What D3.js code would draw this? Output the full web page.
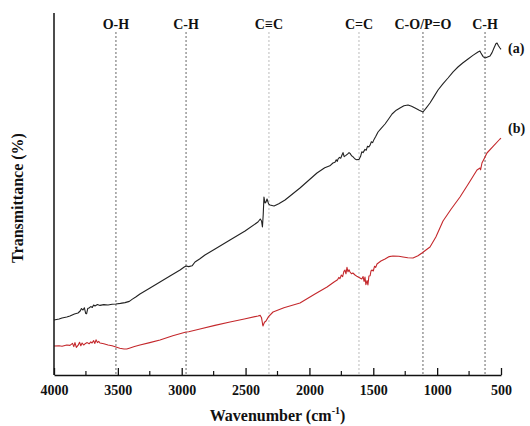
<!DOCTYPE html>
<html>
<head>
<meta charset="utf-8">
<script src="https://cdn.jsdelivr.net/npm/d3@7/dist/d3.min.js"></script>
<style>
  body { margin: 0; background: #fff; }
  text { font-family: "Liberation Serif", "Times New Roman", serif; font-weight: bold; }
</style>
</head>
<body>
<div id="chart"></div>
<script>
// FTIR spectra, wavenumber (cm-1) vs transmittance (arbitrary %)
var spectrumA = [
  [4000, 13.75], [3960, 14.0], [3937, 14.25], [3900, 14.5], [3875, 14.75], [3840, 15.25],
  [3812, 15.5], [3795, 16.0], [3785, 16.6], [3773, 16.25], [3762, 16.8], [3752, 15.4],
  [3745, 15.3], [3736, 16.6], [3726, 16.75], [3712, 17.1], [3700, 16.9], [3690, 17.5],
  [3679, 17.25], [3660, 17.6], [3640, 17.4], [3610, 17.6], [3577, 17.5], [3545, 17.7],
  [3515, 17.75], [3480, 17.9], [3444, 18.1], [3410, 18.4], [3389, 18.9], [3360, 19.5],
  [3327, 20.25], [3248, 21.75], [3170, 23.25], [3092, 24.75], [3013, 26.25], [2980, 27.0],
  [2966, 27.25], [2945, 27.1], [2919, 27.3], [2896, 28.25], [2860, 29.0], [2818, 30.0],
  [2739, 31.5], [2622, 33.75], [2504, 36.0], [2403, 38.25], [2385, 39.0], [2375, 38.5],
  [2368, 37.0], [2362, 40.0], [2356, 44.5], [2348, 43.0], [2340, 43.25], [2332, 44.0],
  [2320, 42.8], [2309, 42.5], [2277, 42.25], [2240, 42.8], [2191, 43.75], [2074, 46.75],
  [1941, 50.5], [1880, 51.8], [1840, 52.3], [1816, 53.0], [1800, 53.2], [1790, 53.8],
  [1782, 53.4], [1776, 54.0], [1765, 54.4], [1755, 54.2], [1745, 55.0], [1737, 55.6],
  [1728, 54.6], [1714, 54.9], [1700, 55.3], [1690, 55.6], [1682, 55.4], [1670, 54.8],
  [1660, 54.6], [1643, 54.0], [1630, 53.8], [1612, 53.9], [1600, 54.6], [1590, 55.8],
  [1580, 55.6], [1565, 56.4], [1555, 56.2], [1545, 57.2], [1535, 57.0], [1526, 57.4],
  [1515, 58.3], [1505, 58.1], [1494, 58.9], [1480, 59.7], [1463, 60.75], [1440, 61.6],
  [1408, 62.75], [1380, 64.0], [1353, 65.25], [1320, 66.2], [1291, 66.75], [1260, 67.3],
  [1228, 67.5], [1200, 67.2], [1173, 66.75], [1140, 66.2], [1111, 65.75], [1085, 66.8],
  [1056, 68.0], [1025, 69.6], [993, 71.25], [955, 72.8], [915, 74.25], [875, 75.8],
  [837, 77.0], [800, 78.0], [758, 79.0], [720, 79.9], [680, 80.75], [665, 81.0],
  [657, 80.5], [640, 79.6], [625, 79.25], [605, 79.5], [586, 79.75], [570, 80.6],
  [555, 81.75], [540, 82.8], [531, 83.0], [520, 82.3], [508, 81.75], [500, 81.4]
];

var spectrumB = [
  [4000, 7.25], [3960, 7.3], [3937, 7.2], [3900, 7.5], [3875, 7.4], [3855, 7.9],
  [3845, 7.1], [3836, 8.1], [3825, 6.9], [3812, 7.4], [3800, 8.2], [3790, 7.3],
  [3780, 8.0], [3768, 7.5], [3757, 7.8], [3740, 8.1], [3725, 7.8], [3712, 8.3],
  [3702, 8.0], [3690, 8.6], [3680, 7.9], [3671, 8.8], [3660, 8.1], [3650, 8.4],
  [3640, 8.0], [3610, 7.8], [3577, 7.5], [3545, 7.3], [3515, 7.0], [3485, 6.7],
  [3452, 6.5], [3430, 6.5], [3405, 6.75], [3370, 7.1], [3327, 7.5], [3250, 8.1],
  [3170, 8.75], [3070, 9.8], [2966, 10.75], [2945, 10.8], [2857, 11.5], [2740, 12.4],
  [2622, 13.25], [2510, 14.0], [2403, 14.75], [2385, 14.9], [2375, 14.3], [2364, 12.25],
  [2352, 13.2], [2340, 13.5], [2320, 14.6], [2285, 15.75], [2200, 16.8], [2074, 18.0],
  [1960, 20.2], [1862, 22.0], [1810, 23.2], [1780, 23.8], [1770, 24.4], [1761, 24.1],
  [1750, 25.0], [1740, 24.6], [1730, 25.9], [1722, 26.25], [1714, 25.3], [1706, 26.9],
  [1698, 25.8], [1690, 26.3], [1682, 25.75], [1670, 25.3], [1660, 25.5], [1643, 25.0],
  [1625, 24.6], [1604, 24.25], [1590, 24.0], [1580, 24.6], [1572, 23.4], [1565, 24.5],
  [1558, 22.6], [1549, 23.6], [1542, 22.5], [1534, 24.75], [1525, 24.8], [1518, 26.0],
  [1510, 26.25], [1500, 26.0], [1490, 27.2], [1481, 26.9], [1471, 27.75], [1440, 28.5],
  [1408, 29.0], [1375, 29.6], [1346, 29.75], [1300, 29.7], [1267, 29.5], [1230, 29.3],
  [1189, 29.25], [1150, 29.8], [1119, 30.5], [1090, 31.2], [1056, 32.0], [1010, 34.5],
  [954, 38.5], [890, 41.5], [821, 44.5], [755, 47.8], [688, 51.25], [664, 51.75],
  [660, 51.3], [649, 53.0], [630, 54.2], [610, 55.5], [560, 57.2], [508, 59.0], [500, 59.2]
];

var bandNames = ["O-H", "C-H", "C\u2261C", "C=C", "C-O/P=O", "C-H"];
var bandWavenumbers = [3515, 2966, 2317, 1612, 1111, 625];
var bandShade = ["#666", "#666", "#bbb", "#bbb", "#666", "#666"];

var majorTicks = [4000, 3500, 3000, 2500, 2000, 1500, 1000, 500];
var minorTicks = [3750, 3250, 2750, 2250, 1750, 1250, 750];

var seriesNames = ["(a)", "(b)"];
var seriesColors = ["#222", "#c4282c"];

var width = 530, height = 426;
var margin = { top: 13, right: 29, bottom: 51, left: 54 };

var svg = d3.select("#chart").append("svg")
  .attr("width", width)
  .attr("height", height)
  .style("background", "#fff");

var x = d3.scaleLinear()
  .domain([4000, 500])
  .range([margin.left, width - margin.right]);

var y = d3.scaleLinear()
  .domain([0, 90.5])
  .range([height - margin.bottom, margin.top]);

var plotBottom = height - margin.bottom;

// band marker lines
svg.selectAll(".band")
  .data(bandWavenumbers)
  .enter()
  .append("line")
  .attr("class", "band")
  .attr("x1", function(d) { return x(d); })
  .attr("x2", function(d) { return x(d); })
  .attr("y1", 32)
  .attr("y2", plotBottom)
  .attr("stroke", function(d, i) { return bandShade[i]; })
  .attr("stroke-width", 1)
  .attr("stroke-dasharray", "2,2");

svg.selectAll(".bandLabel")
  .data(bandNames)
  .enter()
  .append("text")
  .attr("class", "bandLabel")
  .attr("x", function(d, i) { return x(bandWavenumbers[i]); })
  .attr("y", 29)
  .attr("text-anchor", "middle")
  .attr("font-size", 14)
  .attr("fill", "#111")
  .text(function(d) { return d; });

// spectra
var line = d3.line()
  .x(function(d) { return x(d[0]); })
  .y(function(d) { return y(d[1]); });

svg.selectAll(".spectrum")
  .data([spectrumA, spectrumB])
  .enter()
  .append("path")
  .attr("class", "spectrum")
  .attr("d", line)
  .attr("fill", "none")
  .attr("stroke", function(d, i) { return seriesColors[i]; })
  .attr("stroke-width", 1.1)
  .attr("stroke-linejoin", "round");

// series labels
var lastPoints = [spectrumA[spectrumA.length - 1], spectrumB[spectrumB.length - 1]];
svg.selectAll(".seriesLabel")
  .data(seriesNames)
  .enter()
  .append("text")
  .attr("class", "seriesLabel")
  .attr("x", 508)
  .attr("y", function(d, i) { return i == 0 ? 53 : 133; })
  .attr("font-size", 14)
  .attr("fill", "#111")
  .text(function(d) { return d; });

// x axis
var xAxis = d3.axisBottom(x)
  .tickValues(majorTicks)
  .tickSize(-7)
  .tickSizeOuter(0)
  .tickPadding(10)
  .tickFormat(d3.format("d"));

var gx = svg.append("g")
  .attr("transform", "translate(0," + plotBottom + ")")
  .call(xAxis);

gx.select(".domain").attr("stroke", "#111").attr("stroke-width", 1.5);
gx.selectAll(".tick line").attr("stroke", "#111").attr("stroke-width", 1.3);
gx.selectAll(".tick text")
  .attr("font-size", 14)
  .attr("font-family", "Liberation Serif, Times New Roman, serif")
  .attr("font-weight", "bold")
  .attr("fill", "#111");

gx.selectAll(".minor")
  .data(minorTicks)
  .enter()
  .append("line")
  .attr("class", "minor")
  .attr("x1", function(d) { return x(d); })
  .attr("x2", function(d) { return x(d); })
  .attr("y1", 0)
  .attr("y2", -4)
  .attr("stroke", "#111")
  .attr("stroke-width", 1.2);

// y axis: plain line, no ticks
svg.append("line")
  .attr("x1", margin.left)
  .attr("x2", margin.left)
  .attr("y1", margin.top)
  .attr("y2", plotBottom)
  .attr("stroke", "#111")
  .attr("stroke-width", 1.5);

// axis titles
var xTitle = svg.append("text")
  .attr("x", (margin.left + width - margin.right) / 2)
  .attr("y", 421)
  .attr("text-anchor", "middle")
  .attr("font-size", 16)
  .attr("fill", "#111");
xTitle.append("tspan").text("Wavenumber (cm");
xTitle.append("tspan").attr("font-size", 10).attr("dy", -7).text("-1");
xTitle.append("tspan").attr("dy", 7).text(")");

svg.append("text")
  .attr("transform", "translate(23,198) rotate(-90)")
  .attr("text-anchor", "middle")
  .attr("font-size", 16)
  .attr("fill", "#111")
  .text("Transmittance (%)");
</script>
</body>
</html>
